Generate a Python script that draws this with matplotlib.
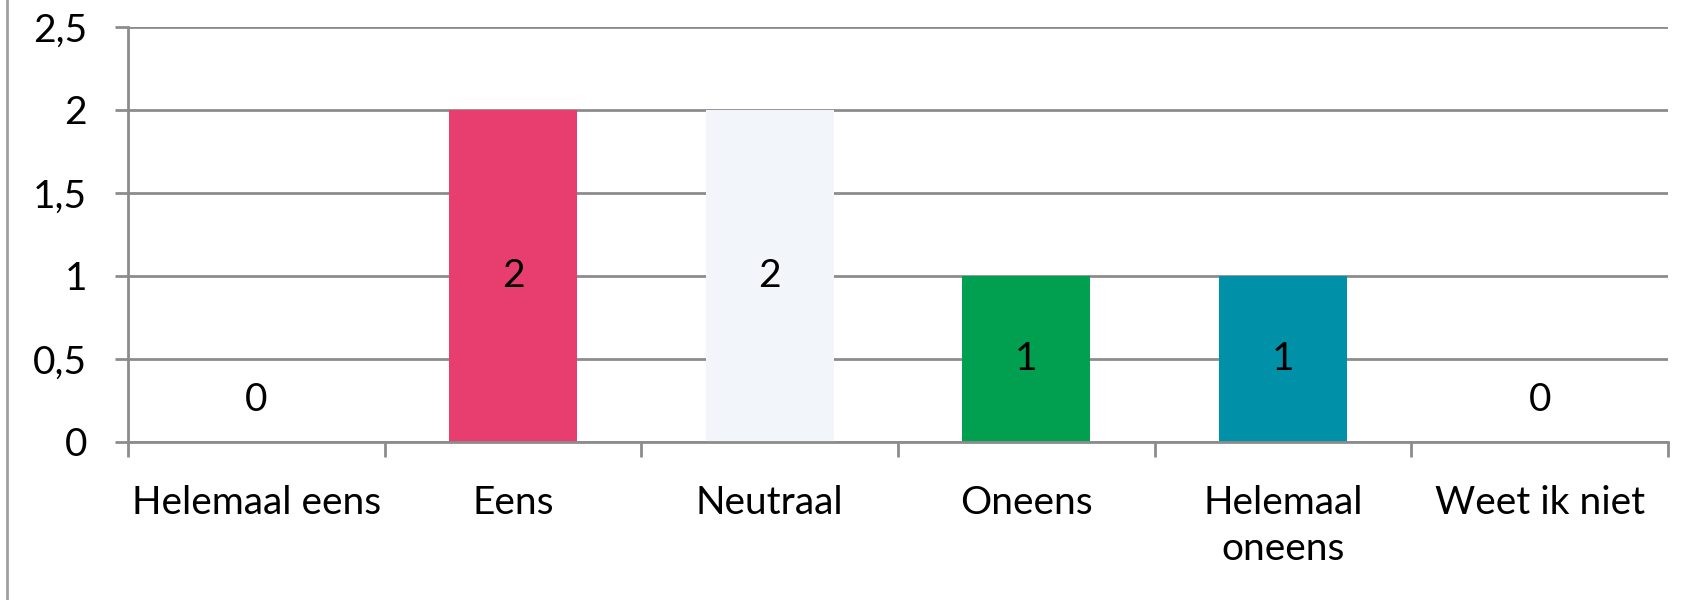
import numpy as np
import matplotlib.pyplot as plt
from matplotlib.lines import Line2D

categories = ["Helemaal eens", "Eens", "Neutraal", "Oneens", "Helemaal\noneens", "Weet ik niet"]
values = [0, 2, 2, 1, 1, 0]
colors = ["#FFFFFF", "#E83E6F", "#F2F6FA", "#00A050", "#0090A8", "#FFFFFF"]
yticks = [0, 0.5, 1, 1.5, 2, 2.5]
ytick_labels = ["0", "0,5", "1", "1,5", "2", "2,5"]

plt.rcParams['font.family'] = ['Lato', 'DejaVu Sans']
grid_col = "#8C8C8C"
fs = 28

fig = plt.figure(figsize=(17.04, 6), dpi=100)
ax = fig.add_axes([128/1704, 1 - 442/600, (1668-128)/1704, (442-27)/600])

x = np.arange(len(categories))
ax.bar(x, values, width=0.5, color=colors, zorder=2)

for xi, v in zip(x, values):
    if v:
        ax.text(xi, v/2, str(v), ha="center", va="center", fontsize=fs, zorder=3)
    else:
        ax.annotate(str(v), (xi, 0), xytext=(0, 30), textcoords="offset points",
                    ha="center", va="center", fontsize=fs, zorder=3)

ax.set_xlim(-0.5, len(categories) - 0.5)
ax.set_ylim(0, 2.5)
ax.set_yticks(yticks)
ax.set_yticklabels(ytick_labels, fontsize=fs)
ax.set_xticks(x)
ax.set_xticklabels(categories, fontsize=fs, linespacing=1.35, va="top")
ax.set_xticks(np.arange(len(categories) + 1) - 0.5, minor=True)
ax.tick_params(axis="x", which="major", length=0, pad=31)
ax.tick_params(axis="x", which="minor", length=11, width=2, color=grid_col, direction="out")
ax.tick_params(axis="y", length=9.5, width=2, color=grid_col, pad=20)

ax.yaxis.grid(True, color=grid_col, linewidth=2, zorder=1)
ax.set_axisbelow(True)
for s in ["top", "right"]:
    ax.spines[s].set_visible(False)
for s in ["left", "bottom"]:
    ax.spines[s].set_color(grid_col)
    ax.spines[s].set_linewidth(2)
ax.spines["bottom"].set_zorder(4)

# outer chart border, only the left edge is in view
fig.add_artist(Line2D([7/1704, 7/1704], [0, 1], color="#A0A0A0", linewidth=2))

fig.savefig("out.png", dpi=100)
